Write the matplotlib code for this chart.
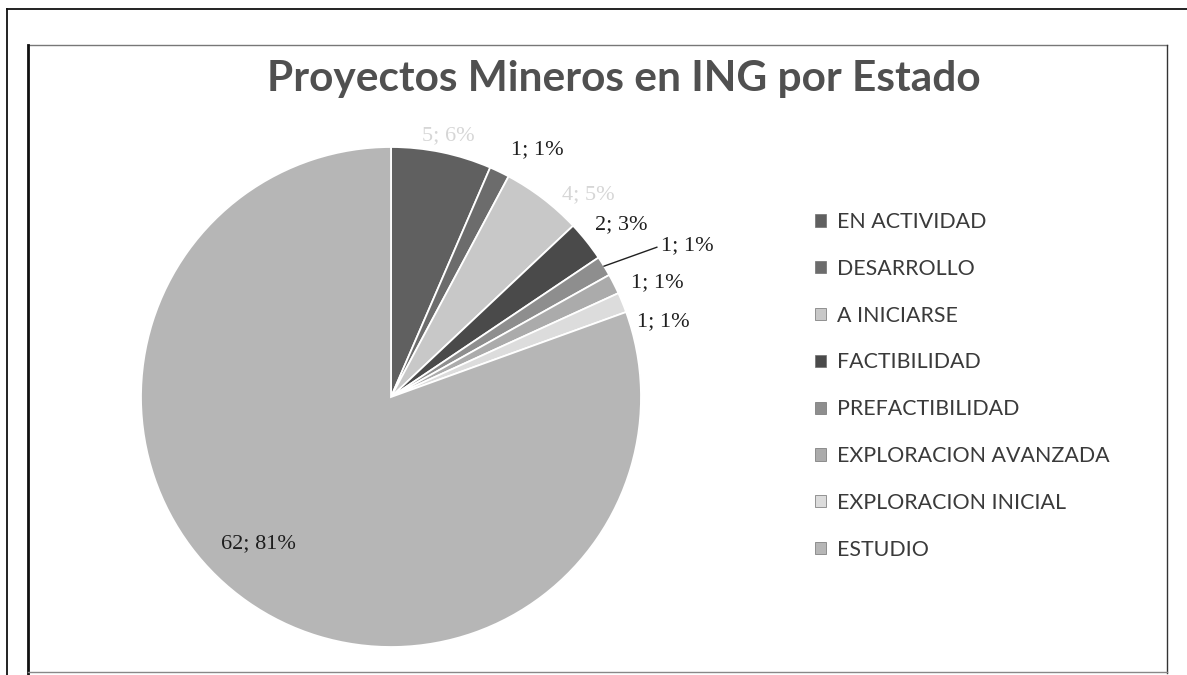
import matplotlib
matplotlib.use("Agg")
import matplotlib.pyplot as plt
from matplotlib.patches import Patch
from matplotlib.lines import Line2D
import numpy as np

# ---------------- data ----------------
categories = ["EN ACTIVIDAD", "DESARROLLO", "A INICIARSE", "FACTIBILIDAD",
              "PREFACTIBILIDAD", "EXPLORACION AVANZADA", "EXPLORACION INICIAL",
              "ESTUDIO"]
counts = [5, 1, 4, 2, 1, 1, 1, 62]
title_text = "Proyectos Mineros en ING por Estado"

# ---------------- style ----------------
colors = ["#606060", "#6c6c6c", "#c8c8c8", "#4a4a4a",
          "#8e8e8e", "#ababab", "#dcdcdc", "#b6b6b6"]
label_colors = ["#d6d6d6", "#1e1e1e", "#d6d6d6", "#1e1e1e",
                "#1e1e1e", "#1e1e1e", "#1e1e1e", "#1e1e1e"]
label_dangle = [0.6, 4.9, 6.9, 1.7, 4.4, 3.7, 6.8, 7.0]     # clockwise shift (deg)
label_rad = [1.07, 1.15, 1.13, 1.15, 1.33, 1.16, 1.13, 0.79]
leader = [False, False, False, False, True, False, False, False]

W, H = 1187, 675
fig = plt.figure(figsize=(W / 100, H / 100), dpi=100)
fig.patch.set_facecolor("white")
ax = fig.add_axes([0, 0, 1, 1])

cx, cy, R = 391, 397, 250
wedges, _ = ax.pie(counts, colors=colors, startangle=90, counterclock=False,
                   center=(cx, H - cy), radius=R,
                   wedgeprops=dict(edgecolor="white", linewidth=1.3))
ax.set_xlim(0, W)
ax.set_ylim(0, H)
ax.set_aspect("equal")
ax.axis("off")

total = sum(counts)
for w, n, da, rf, col, ld in zip(wedges, counts, label_dangle, label_rad,
                                 label_colors, leader):
    mid_deg = (w.theta1 + w.theta2) / 2
    a = np.deg2rad(mid_deg - da)
    x = cx + rf * R * np.cos(a)
    y = (H - cy) + rf * R * np.sin(a)
    txt = f"{n}; {round(100 * n / total)}%"
    ax.text(x, y, txt, ha="center", va="center", fontsize=16,
            family="Liberation Serif", color=col)
    if ld:
        m = np.deg2rad(mid_deg)
        x0 = cx + R * np.cos(m)
        y0 = (H - cy) + R * np.sin(m)
        ax.plot([x0, x - 30], [y0, y - 2], color="#202020", lw=1.0)

# ---------------- title ----------------
t = ax.text(624, H - 91, title_text, ha="center", va="baseline",
            fontsize=30, fontweight="bold", family="Lato", color="#505050")
fig.canvas.draw()
r = fig.canvas.get_renderer()
bw = t.get_window_extent(r).width
t.set_fontsize(30 * 712 / bw)

# ---------------- legend ----------------
probe = ax.text(0, 0, "EXPLORACION AVANZADA", fontsize=16, family="Lato")
fig.canvas.draw()
pw = probe.get_window_extent(r).width
probe.remove()
lfs = 16 * 272 / pw

handles = [Patch(facecolor=c, edgecolor="#707070", linewidth=0.5) for c in colors]


def make_legend(spacing, anchor):
    return ax.legend(handles, categories, loc="upper left",
                     bbox_to_anchor=anchor, bbox_transform=ax.transData,
                     frameon=False, prop=dict(family="Lato", size=lfs),
                     handlelength=0.5, handleheight=0.5, handletextpad=0.55,
                     labelspacing=spacing, borderpad=0, borderaxespad=0,
                     labelcolor="#3a3a3a")


anchor = (815, H - 212)
leg = make_legend(1.0, anchor)
fig.canvas.draw()
texts = leg.get_texts()
ys = [tt.get_window_extent(r).y0 for tt in texts]
pitch = (ys[0] - ys[-1]) / (len(ys) - 1)
target = 46.8
sp = 1.0 + (target - pitch) / (lfs * 100 / 72)
leg.remove()
leg = make_legend(sp, anchor)

# ---------------- frames ----------------
def hline(x0, x1, y, **kw):
    ax.add_line(Line2D([x0, x1], [H - y, H - y], **kw))


def vline(x, y0, y1, **kw):
    ax.add_line(Line2D([x, x], [H - y0, H - y1], **kw))


hline(7, W, 9, color="#111111", lw=1.3)
vline(7, 9, H, color="#111111", lw=1.3)
hline(28, 1167, 45, color="#777777", lw=1.0)
vline(28, 45, H, color="#111111", lw=2.0)
vline(1167, 45, 673, color="#333333", lw=1.0)
hline(28, 1167, 672, color="#888888", lw=1.0)

fig.savefig("out.png", dpi=100, facecolor="white")
